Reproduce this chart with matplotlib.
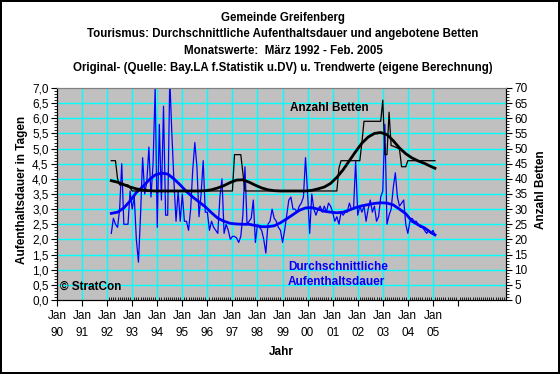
import matplotlib
matplotlib.use("Agg")
import matplotlib.pyplot as plt
import numpy as np

plt.rcParams['font.family'] = ['Liberation Sans', 'DejaVu Sans']

# ---------------- data ----------------
start_year = 1992 + 2/12   # March 1992
n_months = 156             # March 1992 .. Feb 2005

stay_raw = [
    2.2, 2.7, 2.5, 2.4, 3.0, 4.5, 2.5, 2.5, 2.5, 3.6, 3.0, 3.4,
    2.0, 1.25, 2.8, 4.7, 3.5, 3.9, 5.05, 3.4, 4.5, 7.0, 2.4, 5.8,
    3.3, 6.4, 2.8, 2.8, 7.3, 5.5, 3.9, 2.6, 3.6, 2.6, 3.5, 2.6,
    2.6, 2.3, 3.0, 4.3, 5.2, 4.4, 2.75, 3.5, 4.6, 2.9, 2.9, 2.3,
    2.6, 2.4, 2.3, 2.2, 3.4, 4.0, 2.2, 2.5, 2.3, 2.0, 2.1, 2.1,
    2.05, 1.9, 2.1, 2.8, 4.4, 2.5, 2.6, 2.7, 3.3, 1.9, 2.5, 2.4,
    2.3, 2.0, 1.55, 2.5, 2.6, 3.0, 2.7, 2.6, 2.4, 2.3, 1.9, 2.3,
    2.8, 3.3, 3.4, 3.0, 3.0, 2.9, 3.1, 3.2, 3.4, 4.7, 3.5, 2.2,
    3.5, 3.0, 2.8, 3.0, 3.1, 2.9, 3.1, 2.9, 3.2, 3.1, 2.9, 2.6,
    2.75, 2.5, 2.9, 2.8, 2.9, 2.9, 3.2, 3.0, 3.0, 4.6, 2.8, 3.1,
    2.9, 3.1, 2.6, 3.0, 3.3, 2.9, 3.1, 2.6, 2.75, 3.4, 3.6, 5.8,
    2.5, 2.8, 3.0, 3.7, 4.2, 3.4, 3.1, 3.2, 3.3, 2.5, 2.2, 2.6,
    2.7, 2.6, 2.6, 2.5, 2.4, 2.4, 2.3, 2.2, 2.3, 2.2, 2.3, 2.15,
]

beds_raw = (
    [46, 46, 46, 40, 38, 38, 38, 38, 38, 37]
    + [36] * 49
    + [48, 48, 48, 48, 42]
    + [36] * 45
    + [43.5]
    + [46] * 10
    + [52]
    + [59] * 9
    + [66, 48, 48, 62, 51, 50.8, 50.5, 50.2, 49.8, 44, 44, 44]
    + [46] * 14
)

# trend values, read every third month (month index from March 1992)
trend_idx = [0, 3, 6, 9, 12, 15, 18, 21, 24, 27, 30, 33, 36, 39, 42, 45, 48,
             51, 54, 57, 60, 63, 66, 69, 72, 75, 78, 81, 84, 87, 90, 93, 96,
             99, 102, 105, 108, 111, 114, 117, 120, 123, 126, 129, 132, 135,
             138, 141, 144, 147, 150, 153, 155]
stay_trend = [2.86, 2.90, 3.04, 3.27, 3.55, 3.74, 3.96, 4.13, 4.19, 4.16, 4.0,
              3.8, 3.58, 3.4, 3.24, 3.08, 2.88, 2.7, 2.6, 2.53, 2.51, 2.5, 2.5,
              2.46, 2.42, 2.42, 2.45, 2.55, 2.68, 2.82, 2.96, 3.04, 3.05, 3.0,
              2.93, 2.9, 2.88, 2.9, 2.97, 3.05, 3.11, 3.15, 3.19, 3.21, 3.2,
              3.14, 3.0, 2.85, 2.6, 2.48, 2.38, 2.23, 2.15]
beds_trend = [39.4, 38.9, 38.1, 37.3, 36.7, 36.3, 36.1, 36.0, 36.0, 36.0, 36.0,
              36.0, 36.0, 36.0, 36.0, 36.1, 36.4, 37.0, 37.8, 38.8, 39.6, 39.7,
              38.9, 37.9, 37.0, 36.4, 36.1, 36.0, 36.0, 36.0, 36.0, 36.0, 36.2,
              36.7, 37.3, 38.5, 40.5, 43.0, 46.0, 49.0, 51.8, 53.8, 55.0, 55.3,
              54.6, 52.6, 50.2, 48.3, 46.9, 45.9, 45.1, 44.1, 43.5]

tick_years = list(range(1990, 2007))
tick_labels = [f"Jan\n{y % 100:02d}" for y in range(1990, 2006)] + [""]

titles = ["Gemeinde Greifenberg",
          "Tourismus: Durchschnittliche Aufenthaltsdauer und angebotene Betten",
          "Monatswerte:  März 1992 - Feb. 2005",
          "Original- (Quelle: Bay.LA f.Statistik u.DV) u. Trendwerte (eigene Berechnung)"]

# ---------------- figure ----------------
months = start_year + np.arange(n_months) / 12
trend_x = start_year + np.array(trend_idx) / 12

fig = plt.figure(figsize=(5.6, 3.74), dpi=100)
fig.patch.set_facecolor("white")
fig.patch.set_edgecolor("black")
fig.patch.set_linewidth(1.5)

ax = fig.add_axes([57/560, 1 - 300/374, 449/560, 212/374])
ax.set_facecolor("#C0C0C0")
ax2 = ax.twinx()

ax.set_xlim(1990, 2006)
ax.set_ylim(0, 7)
ax2.set_ylim(0, 70)

# grid
for y in np.arange(0.5, 7.0, 0.5):
    ax.axhline(y, color="#00FFFF", lw=1, zorder=1)
for x in range(1991, 2006):
    ax.axvline(x, color="#00FFFF", lw=1, zorder=1)

ax.plot(months, stay_raw, color="#0000FF", lw=0.9, zorder=3)
ax.plot(trend_x, stay_trend, color="#0000FF", lw=2.0, zorder=4)
ax2.plot(months, beds_raw, color="black", lw=0.9, zorder=3)
ax2.plot(trend_x, beds_trend, color="black", lw=2.0, zorder=4)

# ticks
ax.set_yticks(np.arange(0, 7.01, 0.5))
ax.set_yticklabels([f"{v:.1f}".replace(".", ",") for v in np.arange(0, 7.01, 0.5)])
ax.set_yticks(np.arange(0, 7.01, 0.1), minor=True)
ax2.set_yticks(np.arange(0, 71, 5))
ax2.set_yticks(np.arange(0, 71, 1), minor=True)
ax.set_xticks(tick_years)
ax.set_xticklabels(tick_labels)
ax.set_xticks(start_year - 2/12 + np.arange(0, 16*12) / 12, minor=True)

ax.tick_params(axis="y", which="major", direction="out", length=4, labelsize=8.5, pad=2)
ax.tick_params(axis="y", which="minor", direction="out", length=2)
ax2.tick_params(axis="y", which="major", direction="out", length=4, labelsize=8.5, pad=2)
ax2.tick_params(axis="y", which="minor", direction="out", length=2)
ax.tick_params(axis="x", which="major", direction="out", length=4, labelsize=8.5, pad=3)
ax.tick_params(axis="x", which="minor", direction="in", length=2)
for lab in ax.get_xticklabels():
    lab.set_linespacing(1.63)

for a in (ax, ax2):
    a.spines["top"].set_color("#808080")
    a.spines["left"].set_color("black")
    a.spines["bottom"].set_color("black")
    a.spines["right"].set_color("black")

# texts
ax.text(0.519, 0.906, "Anzahl Betten", transform=ax.transAxes, fontsize=8.5,
        fontweight="bold", color="black", va="center", ha="left", zorder=5)
ax.text(0.514, 0.156, "Durchschnittliche", transform=ax.transAxes, fontsize=8.5,
        fontweight="bold", color="#0000FF", va="center", ha="left", zorder=5)
ax.text(0.514, 0.085, "Aufenthaltsdauer", transform=ax.transAxes, fontsize=8.5,
        fontweight="bold", color="#0000FF", va="center", ha="left", zorder=5)
ax.text(0.007, 0.061, "© StratCon", transform=ax.transAxes, fontsize=8.5,
        fontweight="bold", color="black", va="center", ha="left", zorder=5)

for k, t in enumerate(titles):
    fig.text(283/560, 1 - (18 + 16.5*k)/374, t, ha="center", va="center",
             fontsize=8.3, fontweight="bold")

fig.text(22/560, 1 - 190/374, "Aufenthaltsdauer in Tagen", rotation=90,
         ha="center", va="center", fontsize=8.5, fontweight="bold")
fig.text(541/560, 1 - 190/374, "Anzahl Betten", rotation=90,
         ha="center", va="center", fontsize=8.5, fontweight="bold")
fig.text(281/560, 1 - 352/374, "Jahr", ha="center", va="center",
         fontsize=8.5, fontweight="bold")

fig.savefig("out.png", dpi=100, facecolor=fig.get_facecolor(),
            edgecolor=fig.get_edgecolor())
